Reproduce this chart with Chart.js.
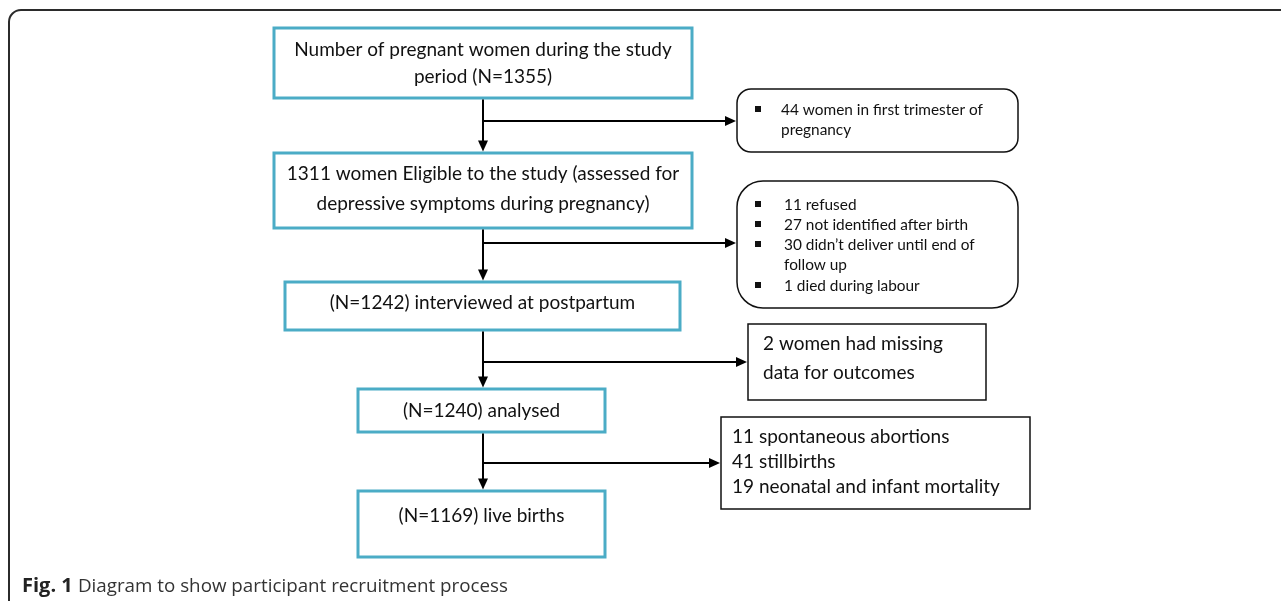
<!DOCTYPE html>
<html>
<head>
<meta charset="utf-8">
<script src="https://cdn.jsdelivr.net/npm/chart.js@4"></script>
<style>
html,body{margin:0;padding:0;background:#fff;}
#wrap{width:1281px;height:601px;position:relative;}
</style>
</head>
<body>
<div id="wrap"><canvas id="c" width="1281" height="601"></canvas></div>
<script>
// ---- content (text) ----
const mainLabels = [
  ["Number of pregnant women during the study", "period (N=1355)"],
  ["1311 women Eligible to the study (assessed for", "depressive symptoms during pregnancy)"],
  ["(N=1242) interviewed at postpartum"],
  ["(N=1240) analysed"],
  ["(N=1169) live births"]
];
const sideLabels = [
  [["44 women in first trimester of", "pregnancy"]],
  [["11 refused"], ["27 not identified after birth"], ["30 didn\u2019t deliver until end of", "follow up"], ["1 died during labour"]],
  [["2 women had missing", "data for outcomes"]],
  [["11 spontaneous abortions"], ["41 stillbirths"], ["19 neonatal and infant mortality"]]
];
const sideBulleted = [true, true, false, false];
const captionBold = "Fig. 1";
const captionText = "Diagram to show participant recruitment process";

// ---- layout (diagram coordinates, same units as the hidden axes) ----
const mainX0 = [274, 274, 285, 358, 358];
const mainX1 = [692, 692, 680, 605, 605];
const mainY0 = [28, 153, 282, 389, 491];
const mainY1 = [98, 228, 330, 432, 557];
const mainTextY = [[50, 77], [174, 204], [303], [411], [516]];
const sideX0 = [737, 737, 748, 721];
const sideX1 = [1018, 1018, 986, 1030];
const sideY0 = [89, 181, 324, 417];
const sideY1 = [152, 308, 400, 509];
const sideRadius = [14, 26, 0, 0];
const sideTextX = [781, 784, 763, 732];
const sideBulletX = [758, 758, 0, 0];
const sideTextY = [[110, 130], [205, 225, 245, 265, 286], [344, 373], [437, 462, 487]];
const sideFont = [15.4, 15.4, 19, 19];
const spineX = 483;
const branchY = [121, 243, 362, 463];

const TEAL = "#4BACC6";
const FONT = "Lato, 'Open Sans', sans-serif";

const flowPlugin = {
  id: "flow",
  afterDraw(chart) {
    const ctx = chart.ctx;
    const xs = chart.scales.x, ys = chart.scales.y;
    const X = v => xs.getPixelForValue(v);
    const Y = v => ys.getPixelForValue(v);
    ctx.save();
    // outer frame
    ctx.strokeStyle = "#2b2b2b";
    ctx.lineWidth = 2;
    ctx.beginPath();
    ctx.moveTo(X(9), Y(601));
    ctx.lineTo(X(9), Y(22));
    ctx.arcTo(X(9), Y(10), X(21), Y(10), 12);
    ctx.lineTo(X(1285), Y(10));
    ctx.stroke();

    // main boxes
    ctx.strokeStyle = TEAL;
    ctx.lineWidth = 3;
    ctx.fillStyle = "#111";
    ctx.textAlign = "center";
    ctx.textBaseline = "middle";
    ctx.font = "19px " + FONT;
    for (let i = 0; i < mainLabels.length; i++) {
      ctx.strokeRect(X(mainX0[i]), Y(mainY0[i]), X(mainX1[i]) - X(mainX0[i]), Y(mainY1[i]) - Y(mainY0[i]));
      const cx = X((mainX0[i] + mainX1[i]) / 2);
      mainLabels[i].forEach((t, j) => ctx.fillText(t, cx, Y(mainTextY[i][j])));
    }

    // arrows
    ctx.strokeStyle = "#000";
    ctx.fillStyle = "#000";
    ctx.lineWidth = 2;
    const arrowHead = (x, y, dir) => {
      ctx.beginPath();
      if (dir === "down") {
        ctx.moveTo(x, y); ctx.lineTo(x - 5, y - 11); ctx.lineTo(x + 5, y - 11);
      } else {
        ctx.moveTo(x, y); ctx.lineTo(x - 11, y - 5); ctx.lineTo(x - 11, y + 5);
      }
      ctx.closePath(); ctx.fill();
    };
    for (let i = 0; i < branchY.length; i++) {
      const top = Y(mainY1[i]) + 1.5, bot = Y(mainY0[i + 1]) - 1.5;
      ctx.beginPath(); ctx.moveTo(X(spineX), top); ctx.lineTo(X(spineX), bot - 8); ctx.stroke();
      arrowHead(X(spineX), bot, "down");
      const tx = X(sideX0[i]) - 1;
      ctx.beginPath(); ctx.moveTo(X(spineX), Y(branchY[i])); ctx.lineTo(tx - 8, Y(branchY[i])); ctx.stroke();
      arrowHead(tx, Y(branchY[i]), "right");
    }

    // side boxes
    ctx.lineWidth = 1.5;
    ctx.strokeStyle = "#111";
    ctx.textAlign = "left";
    for (let i = 0; i < sideLabels.length; i++) {
      const x0 = X(sideX0[i]), y0 = Y(sideY0[i]), w = X(sideX1[i]) - x0, h = Y(sideY1[i]) - y0;
      ctx.beginPath();
      if (sideRadius[i] > 0) ctx.roundRect(x0, y0, w, h, sideRadius[i]);
      else ctx.rect(x0, y0, w, h);
      ctx.stroke();
      ctx.font = sideFont[i] + "px " + FONT;
      ctx.fillStyle = "#111";
      let k = 0;
      sideLabels[i].forEach(item => {
        item.forEach((t, j) => {
          const y = Y(sideTextY[i][k]);
          if (sideBulleted[i] && j === 0) ctx.fillRect(X(sideBulletX[i]) - 3, y - 4, 6, 6);
          ctx.fillText(t, X(sideTextX[i]), y);
          k++;
        });
      });
    }

    // caption
    ctx.textBaseline = "alphabetic";
    ctx.fillStyle = "#222";
    ctx.font = "bold 20px 'Open Sans', sans-serif";
    ctx.fillText(captionBold, X(22), Y(592));
    const bw = ctx.measureText(captionBold + " ").width;
    ctx.fillStyle = "#333";
    ctx.font = "18.8px 'Open Sans', sans-serif";
    ctx.fillText(captionText, X(22) + bw, Y(592));
    ctx.restore();
  }
};

new Chart(document.getElementById("c"), {
  type: "scatter",
  data: { datasets: [{ data: [], pointRadius: 0 }] },
  options: {
    responsive: false,
    animation: false,
    events: [],
    layout: { padding: 0 },
    plugins: { legend: { display: false }, tooltip: { enabled: false } },
    scales: {
      x: { type: "linear", min: 0, max: 1281, display: false },
      y: { type: "linear", min: 0, max: 601, reverse: true, display: false }
    }
  },
  plugins: [flowPlugin]
});
</script>
</body>
</html>
